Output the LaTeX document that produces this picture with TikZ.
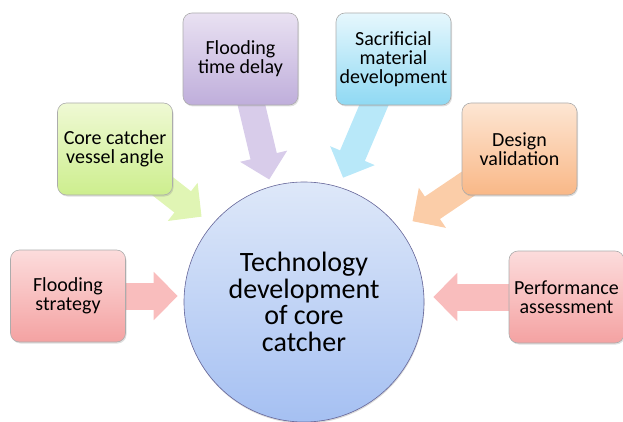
\documentclass[tikz,border=0pt]{standalone}
\usepackage{fontspec}
\setmainfont{Carlito}
\usetikzlibrary{calc, positioning, arrows.meta, shadows, backgrounds}

\definecolor{redtop}{HTML}{FCDCDC}
\definecolor{redbot}{HTML}{F4A2A2}
\definecolor{redarr}{HTML}{F9BDBD}
\definecolor{greentop}{HTML}{EFF9D4}
\definecolor{greenbot}{HTML}{CDEE8E}
\definecolor{greenarr}{HTML}{E0F5B4}
\definecolor{purpletop}{HTML}{E9E1F2}
\definecolor{purplebot}{HTML}{BFAEDB}
\definecolor{purplearr}{HTML}{D8CCEA}
\definecolor{cyantop}{HTML}{E6F7FD}
\definecolor{cyanbot}{HTML}{8FD9F3}
\definecolor{cyanarr}{HTML}{B8E8F9}
\definecolor{orangetop}{HTML}{FDE6D3}
\definecolor{orangebot}{HTML}{F9B887}
\definecolor{orangearr}{HTML}{FBCDA8}
\definecolor{bluetop}{HTML}{DEE8F9}
\definecolor{bluebot}{HTML}{A5C0F2}

\begin{document}
\begin{tikzpicture}[x=1pt, y=-1pt,
    box/.style={draw=gray!65, line width=0.6pt, rounded corners=9pt,
        minimum width=115pt, minimum height=92pt, align=center,
        font=\fontsize{20}{19}\selectfont, shading=axis,
        drop shadow={opacity=0.25, shadow xshift=1pt, shadow yshift=-1.5pt}},
    push/.style={line width=27pt, -{Triangle[length=24pt, width=47pt]}}]
    \useasboundingbox (0,0) rectangle (623,422);

    % centre topic
    \node[circle, minimum size=240pt, inner sep=0pt, draw=gray!80!blue, line width=0.6pt,
        shading=axis, top color=bluetop, bottom color=bluebot, align=center,
        font=\fontsize{28}{26.5}\selectfont,
        drop shadow={opacity=0.3, shadow xshift=0.5pt, shadow yshift=-1.5pt}]
        (core) at (304,302) {Technology\\development\\of core\\catcher};

    % surrounding boxes
    \node[box, top color=redtop, bottom color=redbot] (strategy) at (68,296) {Flooding\\strategy};
    \node[box, top color=greentop, bottom color=greenbot] (angle) at (115,149) {Core catcher\\vessel angle};
    \node[box, top color=purpletop, bottom color=purplebot] (delay) at (240.5,59) {Flooding\\time delay};
    \node[box, top color=cyantop, bottom color=cyanbot] (sacrificial) at (393.5,59) {Sacrificial\\material\\development};
    \node[box, top color=orangetop, bottom color=orangebot] (validation) at (519.5,149) {Design\\validation};
    \node[box, top color=redtop, bottom color=redbot] (assessment) at (566.5,297) {Performance\\assessment};

    \begin{scope}[on background layer]
        \draw[push, redarr, shorten >=6pt] (strategy.center) -- (strategy.center -| core.west);
        \draw[push, greenarr, shorten >=13pt] (angle.center) -- (core.140);
        \draw[push, purplearr, shorten >=7pt] (delay.center) -- (core.106);
        \draw[push, cyanarr, shorten >=10pt] (sacrificial.center) -- (core.73);
        \draw[push, orangearr, shorten >=15pt] (validation.center) -- (core.37);
        \draw[push, redarr, shorten >=9pt] (assessment.center) -- (assessment.center -| core.east);
    \end{scope}
\end{tikzpicture}
\end{document}
